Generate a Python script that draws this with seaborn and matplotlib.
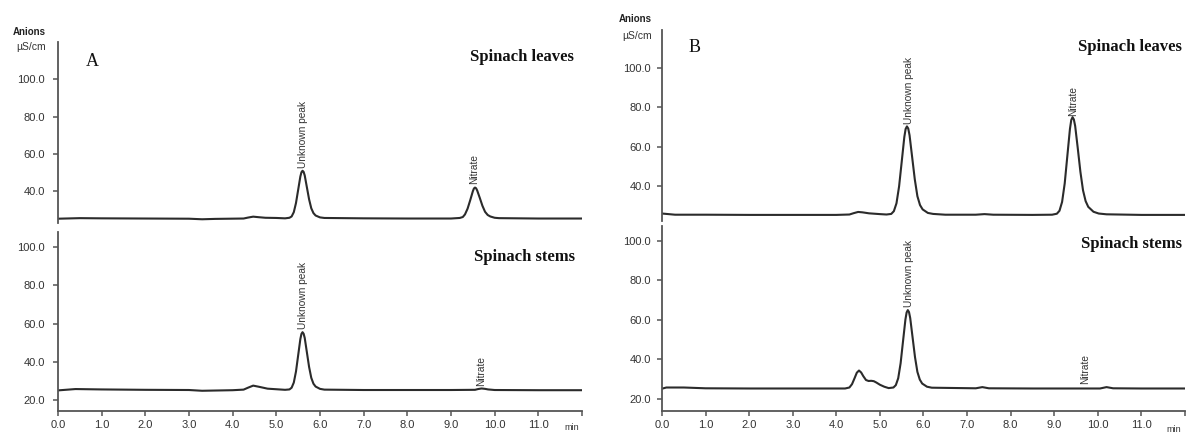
import matplotlib
matplotlib.use("Agg")
import matplotlib.pyplot as plt
import seaborn as sns
import pandas as pd

# ---------------- data ----------------
# Panel A, spinach leaves
t_a_leaves = [0.0, 0.5, 1.0, 2.0, 3.0, 3.3, 3.6, 4.25, 4.35, 4.47, 4.6, 4.75, 5.0, 5.2,
              5.3, 5.35, 5.4, 5.45, 5.5, 5.55, 5.575, 5.6, 5.625, 5.65, 5.7, 5.75, 5.8, 5.85,
              5.9, 6.0, 6.1, 7.0, 8.0, 9.0,
              9.2, 9.27, 9.32, 9.38, 9.44, 9.5, 9.525, 9.55, 9.575, 9.6, 9.66, 9.72, 9.78,
              9.84, 9.9, 10.0, 10.1, 11.0, 12.0]
y_a_leaves = [25.3, 25.6, 25.5, 25.4, 25.3, 25.0, 25.2, 25.4, 25.9, 26.4, 26.1, 25.8, 25.7, 25.5,
              25.8, 26.5, 28.8, 33.7, 40.8, 47.9, 50.2, 51.0, 50.4, 48.5, 42.1, 35.7, 30.9, 28.3,
              27.0, 26.0, 25.7, 25.5, 25.4, 25.4,
              25.7, 26.2, 27.6, 30.7, 35.2, 40.0, 41.5, 42.0, 41.6, 40.4, 36.4, 32.2, 29.0,
              27.3, 26.5, 25.8, 25.6, 25.4, 25.4]

# Panel A, spinach stems
t_a_stems = [0.0, 0.4, 1.0, 2.0, 3.0, 3.3, 4.0, 4.25, 4.35, 4.47, 4.6, 4.8, 5.2,
             5.3, 5.35, 5.4, 5.45, 5.5, 5.55, 5.575, 5.6, 5.625, 5.65, 5.7, 5.75, 5.8, 5.85,
             5.9, 6.0, 6.1, 7.0, 8.0, 9.0, 9.55, 9.62, 9.7, 9.78, 9.85, 10.0, 11.0, 12.0]
y_a_stems = [25.0, 25.7, 25.5, 25.3, 25.2, 24.8, 25.1, 25.4, 26.4, 27.5, 26.9, 25.9, 25.3,
             25.5, 26.4, 29.1, 34.9, 43.4, 51.9, 54.6, 55.5, 54.7, 52.5, 44.9, 37.3, 31.6, 28.5,
             27.0, 25.8, 25.4, 25.2, 25.2, 25.2, 25.3, 25.7, 26.0, 25.8, 25.5, 25.2, 25.1, 25.1]

# Panel B, spinach leaves
t_b_leaves = [0.0, 0.3, 1.0, 2.0, 3.0, 4.0, 4.3, 4.4, 4.5, 4.6, 4.75, 5.0, 5.15,
              5.26, 5.32, 5.38, 5.44, 5.50, 5.56, 5.59, 5.62, 5.65, 5.68, 5.74, 5.80, 5.86,
              5.92, 5.98, 6.10, 6.22, 6.5, 7.2, 7.4, 7.6, 8.5, 8.95,
              9.06, 9.12, 9.18, 9.24, 9.30, 9.36, 9.39, 9.42, 9.45, 9.48, 9.54, 9.60, 9.66,
              9.72, 9.78, 9.90, 10.02, 10.2, 11.0, 12.0]
y_b_leaves = [26.0, 25.4, 25.4, 25.3, 25.3, 25.3, 25.5, 26.2, 26.8, 26.6, 26.1, 25.7, 25.5,
              25.8, 27.2, 31.2, 39.8, 52.3, 64.9, 69.0, 70.3, 69.2, 65.8, 54.6, 43.4, 34.8,
              30.3, 28.1, 26.3, 25.8, 25.4, 25.4, 25.7, 25.4, 25.3, 25.4,
              25.9, 27.4, 31.9, 41.3, 55.2, 69.0, 73.5, 75.0, 73.8, 70.5, 59.1, 47.2, 37.8,
              32.3, 29.4, 26.9, 26.0, 25.6, 25.3, 25.3]

# Panel B, spinach stems
t_b_stems = [0.0, 0.1, 0.5, 1.0, 2.0, 3.0, 4.0, 4.2, 4.3, 4.36, 4.42, 4.47, 4.52, 4.57,
             4.62, 4.68, 4.74, 4.8, 4.86, 4.92, 5.0, 5.1, 5.2,
             5.31, 5.365, 5.42, 5.475, 5.53, 5.585, 5.6125, 5.64, 5.6675, 5.695, 5.75, 5.805,
             5.86, 5.915, 5.97, 6.08, 6.19, 7.2, 7.35, 7.5, 8.5, 10.05, 10.2, 10.35, 11.0, 12.0]
y_b_stems = [25.2, 25.8, 25.8, 25.4, 25.3, 25.3, 25.3, 25.3, 25.8, 27.5, 30.6, 33.3, 34.4, 33.4,
             31.5, 29.6, 29.1, 29.2, 29.0, 28.3, 27.2, 26.2, 25.5,
             25.8, 27.0, 30.5, 38.1, 49.2, 60.2, 63.8, 65.0, 64.0, 61.0, 51.1, 41.2,
             33.7, 29.8, 27.8, 26.2, 25.7, 25.4, 26.0, 25.4, 25.3, 25.3, 26.0, 25.4, 25.3, 25.3]

# Peak annotations: (label, time, label baseline value)
ann_a_leaves = [("Unknown peak", 5.61, 52.5), ("Nitrate", 9.54, 44.0)]
ann_a_stems = [("Unknown peak", 5.62, 57.4), ("Nitrate", 9.70, 27.3)]
ann_b_leaves = [("Unknown peak", 5.66, 71.5), ("Nitrate", 9.43, 75.6)]
ann_b_stems = [("Unknown peak", 5.66, 66.6), ("Nitrate", 9.70, 27.6)]

x_ticks = [0, 1, 2, 3, 4, 5, 6, 7, 8, 9, 10, 11]
x_tick_labels = ["0.0", "1.0", "2.0", "3.0", "4.0", "5.0", "6.0", "7.0", "8.0", "9.0", "10.0", "11.0"]
y_ticks_top = [40, 60, 80, 100]
y_ticks_bottom = [20, 40, 60, 80, 100]

# ---------------- style ----------------
sns.set_style("ticks")
plt.rcParams["font.family"] = ["Liberation Sans", "DejaVu Sans"]

W, H = 1186, 432
fig = plt.figure(figsize=(W / 100, H / 100), dpi=100)

LINE = "#2b2b2b"
AXC = "#555555"
TXT = "#333333"


def px_axes(x0, x1, ytop, ybot):
    return fig.add_axes([x0 / W, 1 - ybot / H, (x1 - x0) / W, (ybot - ytop) / H])


def style(ax, ylim, yticks, bottom, pad):
    ax.set_xlim(0, 12)
    ax.set_ylim(*ylim)
    ax.set_yticks(yticks)
    ax.set_yticklabels([f"{v:.1f}" for v in yticks])
    for s in ["top", "right"]:
        ax.spines[s].set_visible(False)
    ax.spines["left"].set_color(AXC)
    ax.spines["left"].set_linewidth(1.3)
    ax.tick_params(axis="y", direction="out", length=3.5, width=1.1, color=AXC,
                   labelsize=8, labelcolor=TXT, pad=pad)
    if bottom:
        ax.spines["bottom"].set_color(AXC)
        ax.spines["bottom"].set_linewidth(1.3)
        ax.set_xticks(x_ticks + [12])
        ax.set_xticklabels(x_tick_labels + [""])
        ax.tick_params(axis="x", direction="out", length=3.5, width=1.1, color=AXC,
                       labelsize=8, labelcolor=TXT, pad=3)
    else:
        ax.spines["bottom"].set_visible(False)
        ax.set_xticks([])
    ax.set_xlabel("")
    ax.set_ylabel("")
    ax.patch.set_alpha(0)


def trace(ax, t, y, anns):
    df = pd.DataFrame({"time": t, "signal": y})
    sns.lineplot(data=df, x="time", y="signal", ax=ax, color=LINE, linewidth=1.5,
                 estimator=None, sort=False)
    for label, tx, ty in anns:
        ax.text(tx, ty, label, rotation=90, ha="center", va="bottom", fontsize=7.3, color=TXT)


# Panel A
ax_a1 = px_axes(58, 582, 42, 223)
trace(ax_a1, t_a_leaves, y_a_leaves, ann_a_leaves)
style(ax_a1, (23, 120), y_ticks_top, False, 6)

ax_a2 = px_axes(58, 582, 232, 411)
trace(ax_a2, t_a_stems, y_a_stems, ann_a_stems)
style(ax_a2, (14.2, 108), y_ticks_bottom, True, 6)

# Panel B
ax_b1 = px_axes(662, 1185, 30, 221)
trace(ax_b1, t_b_leaves, y_b_leaves, ann_b_leaves)
style(ax_b1, (22.2, 119.3), y_ticks_top, False, 4.5)

ax_b2 = px_axes(662, 1185, 226, 411)
trace(ax_b2, t_b_stems, y_b_stems, ann_b_stems)
style(ax_b2, (13.9, 107.6), y_ticks_bottom, True, 4.5)


def ftext(x, y, s, **kw):
    fig.text(x / W, 1 - y / H, s, **kw)


serif = ["Liberation Serif", "DejaVu Serif"]
# Panel letters
ftext(92, 61, "A", fontsize=13, family=serif, ha="center", va="center", color="#111111")
ftext(695, 48, "B", fontsize=13, family=serif, ha="center", va="center", color="#111111")
# Panel titles
ftext(574, 57, "Spinach leaves", fontsize=12, family=serif, weight="bold", ha="right", va="center", color="#111111")
ftext(575, 257, "Spinach stems", fontsize=12, family=serif, weight="bold", ha="right", va="center", color="#111111")
ftext(1182, 47, "Spinach leaves", fontsize=12, family=serif, weight="bold", ha="right", va="center", color="#111111")
ftext(1182, 244, "Spinach stems", fontsize=12, family=serif, weight="bold", ha="right", va="center", color="#111111")
# Axis unit labels
ftext(29, 32, "Anions", fontsize=7, weight="bold", ha="center", va="center", color="#222222")
ftext(31, 47.5, "µS/cm", fontsize=7.5, ha="center", va="center", color=TXT)
ftext(635, 19.5, "Anions", fontsize=7, weight="bold", ha="center", va="center", color="#222222")
ftext(637, 36, "µS/cm", fontsize=7.5, ha="center", va="center", color=TXT)
ftext(572, 428, "min", fontsize=6.5, ha="center", va="center", color=TXT)
ftext(1174, 429, "min", fontsize=6.5, ha="center", va="center", color=TXT)

fig.savefig("out.png", dpi=100)
